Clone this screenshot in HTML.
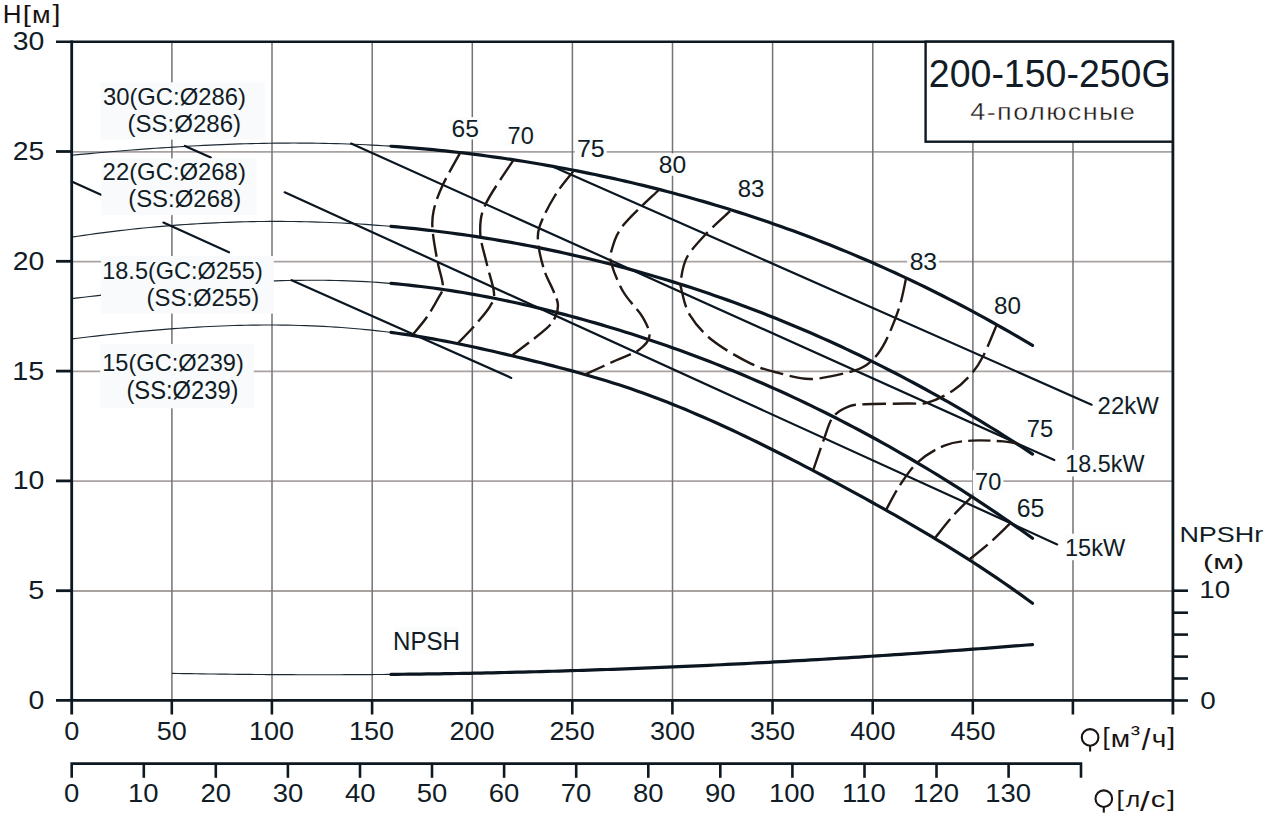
<!DOCTYPE html>
<html><head><meta charset="utf-8"><style>
html,body{margin:0;padding:0;background:#fff;width:1270px;height:830px;overflow:hidden}
svg{display:block}
text{font-family:"Liberation Sans",sans-serif}
</style></head><body>
<svg width="1270" height="830" viewBox="0 0 1270 830">
<rect width="1270" height="830" fill="#fff"/>
<line x1="72" y1="591.0" x2="1172" y2="591.0" stroke="#a8a2a0" stroke-width="1.8"/>
<line x1="72" y1="481.2" x2="1172" y2="481.2" stroke="#a8a2a0" stroke-width="1.8"/>
<line x1="72" y1="371.4" x2="1172" y2="371.4" stroke="#a8a2a0" stroke-width="1.8"/>
<line x1="72" y1="261.6" x2="1172" y2="261.6" stroke="#a8a2a0" stroke-width="1.8"/>
<line x1="72" y1="151.8" x2="1172" y2="151.8" stroke="#a8a2a0" stroke-width="1.8"/>
<line x1="171.9" y1="42" x2="171.9" y2="700" stroke="#737377" stroke-width="1.5"/>
<line x1="272.0" y1="42" x2="272.0" y2="700" stroke="#737377" stroke-width="1.5"/>
<line x1="372.2" y1="42" x2="372.2" y2="700" stroke="#737377" stroke-width="1.5"/>
<line x1="472.3" y1="42" x2="472.3" y2="700" stroke="#737377" stroke-width="1.5"/>
<line x1="572.4" y1="42" x2="572.4" y2="700" stroke="#737377" stroke-width="1.5"/>
<line x1="672.5" y1="42" x2="672.5" y2="700" stroke="#737377" stroke-width="1.5"/>
<line x1="772.6" y1="42" x2="772.6" y2="700" stroke="#737377" stroke-width="1.5"/>
<line x1="872.8" y1="42" x2="872.8" y2="700" stroke="#737377" stroke-width="1.5"/>
<line x1="972.9" y1="42" x2="972.9" y2="700" stroke="#737377" stroke-width="1.5"/>
<line x1="1073.0" y1="42" x2="1073.0" y2="700" stroke="#737377" stroke-width="1.5"/>
<path d="M71.7,155.23 L77.7,154.67 L83.7,154.12 L89.7,153.57 L95.7,153.03 L101.7,152.51 L107.7,151.99 L113.7,151.48 L119.7,150.99 L125.7,150.50 L131.7,150.03 L137.7,149.57 L143.7,149.12 L149.7,148.68 L155.7,148.26 L161.7,147.85 L167.7,147.45 L173.7,147.07 L179.7,146.71 L185.7,146.35 L191.7,146.02 L197.7,145.70 L203.7,145.39 L209.7,145.10 L215.7,144.83 L221.7,144.58 L227.7,144.34 L233.7,144.13 L239.7,143.93 L245.7,143.75 L251.7,143.59 L257.7,143.45 L263.7,143.33 L269.7,143.23 L275.7,143.15 L281.7,143.09 L287.7,143.06 L293.7,143.04 L299.7,143.05 L305.7,143.08 L311.7,143.14 L317.7,143.22 L323.7,143.32 L329.7,143.45 L335.7,143.60 L341.7,143.78 L347.7,143.98 L353.7,144.21 L359.7,144.47 L365.7,144.75 L371.7,145.06 L377.7,145.39 L383.7,145.75 L389.7,146.14 L391.0,146.23" fill="none" stroke="#1c2832" stroke-width="1.15"/>
<path d="M391.0,146.23 L397.0,146.65 L403.0,147.09 L409.0,147.56 L415.0,148.05 L421.0,148.58 L427.0,149.12 L433.0,149.69 L439.0,150.29 L445.0,150.91 L451.0,151.56 L457.0,152.24 L463.0,152.93 L469.0,153.66 L475.0,154.41 L481.0,155.18 L487.0,155.98 L493.0,156.80 L499.0,157.65 L505.0,158.52 L511.0,159.42 L517.0,160.34 L523.0,161.29 L529.0,162.26 L535.0,163.25 L541.0,164.27 L547.0,165.32 L553.0,166.39 L559.0,167.48 L565.0,168.59 L571.0,169.74 L577.0,170.90 L583.0,172.09 L589.0,173.31 L595.0,174.55 L601.0,175.81 L607.0,177.10 L613.0,178.42 L619.0,179.77 L625.0,181.13 L631.0,182.53 L637.0,183.95 L643.0,185.40 L649.0,186.88 L655.0,188.38 L661.0,189.91 L667.0,191.47 L673.0,193.05 L679.0,194.67 L685.0,196.31 L691.0,197.98 L697.0,199.67 L703.0,201.40 L709.0,203.15 L715.0,204.94 L721.0,206.75 L727.0,208.59 L733.0,210.46 L739.0,212.37 L745.0,214.30 L751.0,216.26 L757.0,218.25 L763.0,220.27 L769.0,222.32 L775.0,224.41 L781.0,226.52 L787.0,228.67 L793.0,230.84 L799.0,233.05 L805.0,235.29 L811.0,237.56 L817.0,239.87 L823.0,242.20 L829.0,244.57 L835.0,246.97 L841.0,249.41 L847.0,251.88 L853.0,254.38 L859.0,256.91 L865.0,259.48 L871.0,262.08 L877.0,264.72 L883.0,267.39 L889.0,270.09 L895.0,272.83 L901.0,275.60 L907.0,278.41 L913.0,281.25 L919.0,284.13 L925.0,287.04 L931.0,289.99 L937.0,292.98 L943.0,296.00 L949.0,299.06 L955.0,302.15 L961.0,305.28 L967.0,308.45 L973.0,311.65 L979.0,314.90 L985.0,318.17 L991.0,321.49 L997.0,324.84 L1003.0,328.24 L1009.0,331.67 L1015.0,335.13 L1021.0,338.64 L1027.0,342.19 L1032.5,345.47" fill="none" stroke="#0b1620" stroke-width="3.2" stroke-linecap="round"/>
<path d="M71.7,237.13 L77.7,236.23 L83.7,235.35 L89.7,234.50 L95.7,233.68 L101.7,232.88 L107.7,232.11 L113.7,231.36 L119.7,230.65 L125.7,229.96 L131.7,229.29 L137.7,228.65 L143.7,228.04 L149.7,227.46 L155.7,226.90 L161.7,226.37 L167.7,225.87 L173.7,225.39 L179.7,224.94 L185.7,224.52 L191.7,224.12 L197.7,223.76 L203.7,223.41 L209.7,223.10 L215.7,222.81 L221.7,222.55 L227.7,222.32 L233.7,222.11 L239.7,221.93 L245.7,221.78 L251.7,221.65 L257.7,221.55 L263.7,221.48 L269.7,221.44 L275.7,221.42 L281.7,221.43 L287.7,221.47 L293.7,221.53 L299.7,221.62 L305.7,221.74 L311.7,221.89 L317.7,222.06 L323.7,222.27 L329.7,222.49 L335.7,222.75 L341.7,223.03 L347.7,223.34 L353.7,223.68 L359.7,224.05 L365.7,224.44 L371.7,224.86 L377.7,225.31 L383.7,225.79 L389.7,226.29 L391.0,226.40" fill="none" stroke="#1c2832" stroke-width="1.15"/>
<path d="M391.0,226.40 L397.0,226.94 L403.0,227.50 L409.0,228.09 L415.0,228.71 L421.0,229.36 L427.0,230.04 L433.0,230.74 L439.0,231.47 L445.0,232.23 L451.0,233.01 L457.0,233.83 L463.0,234.67 L469.0,235.54 L475.0,236.43 L481.0,237.36 L487.0,238.31 L493.0,239.29 L499.0,240.30 L505.0,241.34 L511.0,242.40 L517.0,243.49 L523.0,244.61 L529.0,245.76 L535.0,246.94 L541.0,248.14 L547.0,249.37 L553.0,250.63 L559.0,251.92 L565.0,253.24 L571.0,254.58 L577.0,255.96 L583.0,257.36 L589.0,258.79 L595.0,260.24 L601.0,261.73 L607.0,263.25 L613.0,264.79 L619.0,266.37 L625.0,267.97 L631.0,269.60 L637.0,271.26 L643.0,272.96 L649.0,274.68 L655.0,276.43 L661.0,278.21 L667.0,280.03 L673.0,281.87 L679.0,283.75 L685.0,285.65 L691.0,287.59 L697.0,289.56 L703.0,291.55 L709.0,293.59 L715.0,295.65 L721.0,297.74 L727.0,299.87 L733.0,302.03 L739.0,304.22 L745.0,306.44 L751.0,308.70 L757.0,310.99 L763.0,313.31 L769.0,315.66 L775.0,318.05 L781.0,320.47 L787.0,322.93 L793.0,325.42 L799.0,327.94 L805.0,330.50 L811.0,333.09 L817.0,335.71 L823.0,338.37 L829.0,341.07 L835.0,343.80 L841.0,346.56 L847.0,349.36 L853.0,352.19 L859.0,355.06 L865.0,357.97 L871.0,360.91 L877.0,363.89 L883.0,366.90 L889.0,369.95 L895.0,373.04 L901.0,376.16 L907.0,379.32 L913.0,382.52 L919.0,385.75 L925.0,389.02 L931.0,392.33 L937.0,395.68 L943.0,399.06 L949.0,402.48 L955.0,405.94 L961.0,409.43 L967.0,412.97 L973.0,416.54 L979.0,420.15 L985.0,423.81 L991.0,427.50 L997.0,431.22 L1003.0,434.99 L1009.0,438.80 L1015.0,442.65 L1021.0,446.53 L1027.0,450.46 L1032.5,454.09" fill="none" stroke="#0b1620" stroke-width="3.2" stroke-linecap="round"/>
<path d="M71.7,298.63 L77.7,297.92 L83.7,297.22 L89.7,296.52 L95.7,295.83 L101.7,295.14 L107.7,294.45 L113.7,293.77 L119.7,293.10 L125.7,292.44 L131.7,291.79 L137.7,291.14 L143.7,290.51 L149.7,289.89 L155.7,289.28 L161.7,288.68 L167.7,288.09 L173.7,287.53 L179.7,286.97 L185.7,286.43 L191.7,285.91 L197.7,285.41 L203.7,284.92 L209.7,284.46 L215.7,284.01 L221.7,283.59 L227.7,283.18 L233.7,282.80 L239.7,282.44 L245.7,282.11 L251.7,281.80 L257.7,281.52 L263.7,281.26 L269.7,281.03 L275.7,280.83 L281.7,280.65 L287.7,280.51 L293.7,280.39 L299.7,280.31 L305.7,280.26 L311.7,280.24 L317.7,280.25 L323.7,280.30 L329.7,280.39 L335.7,280.51 L341.7,280.66 L347.7,280.85 L353.7,281.09 L359.7,281.36 L365.7,281.67 L371.7,282.02 L377.7,282.41 L383.7,282.84 L389.7,283.32 L391.0,283.43" fill="none" stroke="#1c2832" stroke-width="1.15"/>
<path d="M391.0,283.43 L397.0,283.96 L403.0,284.53 L409.0,285.15 L415.0,285.81 L421.0,286.51 L427.0,287.25 L433.0,288.03 L439.0,288.85 L445.0,289.72 L451.0,290.62 L457.0,291.56 L463.0,292.54 L469.0,293.56 L475.0,294.62 L481.0,295.71 L487.0,296.84 L493.0,298.01 L499.0,299.21 L505.0,300.45 L511.0,301.72 L517.0,303.02 L523.0,304.36 L529.0,305.74 L535.0,307.14 L541.0,308.58 L547.0,310.05 L553.0,311.55 L559.0,313.08 L565.0,314.65 L571.0,316.24 L577.0,317.86 L583.0,319.51 L589.0,321.19 L595.0,322.90 L601.0,324.65 L607.0,326.42 L613.0,328.22 L619.0,330.05 L625.0,331.91 L631.0,333.81 L637.0,335.73 L643.0,337.69 L649.0,339.67 L655.0,341.69 L661.0,343.74 L667.0,345.82 L673.0,347.93 L679.0,350.08 L685.0,352.25 L691.0,354.46 L697.0,356.70 L703.0,358.98 L709.0,361.28 L715.0,363.62 L721.0,366.00 L727.0,368.40 L733.0,370.84 L739.0,373.31 L745.0,375.82 L751.0,378.36 L757.0,380.93 L763.0,383.54 L769.0,386.18 L775.0,388.86 L781.0,391.57 L787.0,394.31 L793.0,397.09 L799.0,399.91 L805.0,402.76 L811.0,405.65 L817.0,408.57 L823.0,411.52 L829.0,414.52 L835.0,417.54 L841.0,420.61 L847.0,423.71 L853.0,426.85 L859.0,430.02 L865.0,433.23 L871.0,436.48 L877.0,439.76 L883.0,443.08 L889.0,446.44 L895.0,449.84 L901.0,453.27 L907.0,456.74 L913.0,460.25 L919.0,463.80 L925.0,467.38 L931.0,471.00 L937.0,474.67 L943.0,478.37 L949.0,482.11 L955.0,485.88 L961.0,489.70 L967.0,493.56 L973.0,497.45 L979.0,501.39 L985.0,505.36 L991.0,509.38 L997.0,513.43 L1003.0,517.53 L1009.0,521.67 L1015.0,525.84 L1021.0,530.06 L1027.0,534.32 L1032.5,538.25" fill="none" stroke="#0b1620" stroke-width="3.2" stroke-linecap="round"/>
<path d="M71.7,338.94 L77.7,338.20 L83.7,337.47 L89.7,336.76 L95.7,336.07 L101.7,335.39 L107.7,334.72 L113.7,334.08 L119.7,333.45 L125.7,332.83 L131.7,332.24 L137.7,331.67 L143.7,331.11 L149.7,330.58 L155.7,330.07 L161.7,329.57 L167.7,329.10 L173.7,328.66 L179.7,328.23 L185.7,327.83 L191.7,327.45 L197.7,327.10 L203.7,326.77 L209.7,326.47 L215.7,326.20 L221.7,325.95 L227.7,325.73 L233.7,325.54 L239.7,325.38 L245.7,325.24 L251.7,325.14 L257.7,325.06 L263.7,325.02 L269.7,325.01 L275.7,325.03 L281.7,325.09 L287.7,325.17 L293.7,325.29 L299.7,325.45 L305.7,325.64 L311.7,325.86 L317.7,326.12 L323.7,326.42 L329.7,326.76 L335.7,327.13 L341.7,327.54 L347.7,327.99 L353.7,328.48 L359.7,329.01 L365.7,329.58 L371.7,330.19 L377.7,330.84 L383.7,331.54 L389.7,332.28 L391.0,332.44" fill="none" stroke="#1c2832" stroke-width="1.15"/>
<path d="M391.0,332.44 L397.0,333.24 L403.0,334.07 L409.0,334.95 L415.0,335.88 L421.0,336.85 L427.0,337.86 L433.0,338.91 L439.0,340.01 L445.0,341.14 L451.0,342.30 L457.0,343.50 L463.0,344.74 L469.0,346.00 L475.0,347.29 L481.0,348.61 L487.0,349.95 L493.0,351.31 L499.0,352.69 L505.0,354.09 L511.0,355.51 L517.0,356.95 L523.0,358.39 L529.0,359.85 L535.0,361.33 L541.0,362.82 L547.0,364.33 L553.0,365.87 L559.0,367.43 L565.0,369.01 L571.0,370.63 L577.0,372.27 L583.0,373.95 L589.0,375.67 L595.0,377.42 L601.0,379.21 L607.0,381.04 L613.0,382.92 L619.0,384.85 L625.0,386.82 L631.0,388.85 L637.0,390.92 L643.0,393.06 L649.0,395.24 L655.0,397.47 L661.0,399.75 L667.0,402.08 L673.0,404.46 L679.0,406.89 L685.0,409.35 L691.0,411.86 L697.0,414.42 L703.0,417.01 L709.0,419.65 L715.0,422.32 L721.0,425.03 L727.0,427.78 L733.0,430.57 L739.0,433.38 L745.0,436.24 L751.0,439.12 L757.0,442.03 L763.0,444.98 L769.0,447.95 L775.0,450.95 L781.0,453.97 L787.0,457.02 L793.0,460.10 L799.0,463.19 L805.0,466.31 L811.0,469.45 L817.0,472.61 L823.0,475.78 L829.0,478.97 L835.0,482.18 L841.0,485.40 L847.0,488.64 L853.0,491.89 L859.0,495.16 L865.0,498.44 L871.0,501.74 L877.0,505.07 L883.0,508.41 L889.0,511.78 L895.0,515.18 L901.0,518.60 L907.0,522.04 L913.0,525.52 L919.0,529.03 L925.0,532.57 L931.0,536.15 L937.0,539.76 L943.0,543.41 L949.0,547.09 L955.0,550.82 L961.0,554.59 L967.0,558.40 L973.0,562.26 L979.0,566.16 L985.0,570.11 L991.0,574.11 L997.0,578.16 L1003.0,582.26 L1009.0,586.42 L1015.0,590.63 L1021.0,594.90 L1027.0,599.22 L1032.5,603.24" fill="none" stroke="#0b1620" stroke-width="3.2" stroke-linecap="round"/>
<path d="M172.0,673.35 L178.0,673.46 L184.0,673.57 L190.0,673.67 L196.0,673.77 L202.0,673.86 L208.0,673.95 L214.0,674.04 L220.0,674.11 L226.0,674.19 L232.0,674.26 L238.0,674.32 L244.0,674.38 L250.0,674.44 L256.0,674.49 L262.0,674.53 L268.0,674.57 L274.0,674.61 L280.0,674.64 L286.0,674.67 L292.0,674.69 L298.0,674.71 L304.0,674.72 L310.0,674.73 L316.0,674.73 L322.0,674.73 L328.0,674.72 L334.0,674.71 L340.0,674.70 L346.0,674.68 L352.0,674.65 L358.0,674.63 L364.0,674.59 L370.0,674.55 L376.0,674.51 L382.0,674.46 L388.0,674.41 L391.0,674.38" fill="none" stroke="#1c2832" stroke-width="1.15"/>
<path d="M391.0,674.38 L397.0,674.33 L403.0,674.26 L409.0,674.20 L415.0,674.12 L421.0,674.05 L427.0,673.97 L433.0,673.88 L439.0,673.79 L445.0,673.70 L451.0,673.60 L457.0,673.49 L463.0,673.39 L469.0,673.28 L475.0,673.16 L481.0,673.04 L487.0,672.91 L493.0,672.78 L499.0,672.65 L505.0,672.51 L511.0,672.37 L517.0,672.22 L523.0,672.07 L529.0,671.92 L535.0,671.76 L541.0,671.59 L547.0,671.42 L553.0,671.25 L559.0,671.07 L565.0,670.89 L571.0,670.71 L577.0,670.52 L583.0,670.33 L589.0,670.13 L595.0,669.93 L601.0,669.72 L607.0,669.51 L613.0,669.29 L619.0,669.08 L625.0,668.85 L631.0,668.63 L637.0,668.39 L643.0,668.16 L649.0,667.92 L655.0,667.68 L661.0,667.43 L667.0,667.18 L673.0,666.92 L679.0,666.66 L685.0,666.40 L691.0,666.13 L697.0,665.86 L703.0,665.58 L709.0,665.30 L715.0,665.02 L721.0,664.73 L727.0,664.44 L733.0,664.14 L739.0,663.84 L745.0,663.54 L751.0,663.23 L757.0,662.92 L763.0,662.61 L769.0,662.29 L775.0,661.96 L781.0,661.64 L787.0,661.31 L793.0,660.97 L799.0,660.63 L805.0,660.29 L811.0,659.94 L817.0,659.59 L823.0,659.24 L829.0,658.88 L835.0,658.52 L841.0,658.16 L847.0,657.79 L853.0,657.41 L859.0,657.04 L865.0,656.66 L871.0,656.27 L877.0,655.89 L883.0,655.49 L889.0,655.10 L895.0,654.70 L901.0,654.30 L907.0,653.89 L913.0,653.48 L919.0,653.07 L925.0,652.65 L931.0,652.23 L937.0,651.80 L943.0,651.38 L949.0,650.94 L955.0,650.51 L961.0,650.07 L967.0,649.63 L973.0,649.18 L979.0,648.73 L985.0,648.28 L991.0,647.82 L997.0,647.36 L1003.0,646.90 L1009.0,646.43 L1015.0,645.96 L1021.0,645.49 L1027.0,645.01 L1032.5,644.57" fill="none" stroke="#0b1620" stroke-width="3.2" stroke-linecap="round"/>
<line x1="553.7" y1="166.9" x2="1091.6" y2="404.7" stroke="#0b1620" stroke-width="2.2" stroke-linecap="round"/>
<line x1="351.1" y1="143.6" x2="1054.3" y2="460.1" stroke="#0b1620" stroke-width="2.2" stroke-linecap="round"/>
<line x1="284.7" y1="192.3" x2="1057.2" y2="544.4" stroke="#0b1620" stroke-width="2.2" stroke-linecap="round"/>
<line x1="291.6" y1="280.2" x2="511.3" y2="377.9" stroke="#0b1620" stroke-width="2.2" stroke-linecap="round"/>
<line x1="71.7" y1="181.5" x2="101" y2="194.7" stroke="#0b1620" stroke-width="2.2" stroke-linecap="round"/>
<line x1="163.4" y1="222.6" x2="229" y2="252.3" stroke="#0b1620" stroke-width="2.2" stroke-linecap="round"/>
<line x1="184.9" y1="146" x2="210.8" y2="157.6" stroke="#0b1620" stroke-width="2.2" stroke-linecap="round"/>
<path d="M460.4,152.4 C457.4,158.0 446.8,176.2 442.3,185.9 C437.8,195.7 435.2,203.5 433.6,210.9 C432.0,218.3 432.0,221.8 432.6,230.2 C433.2,238.5 435.7,251.7 437.4,261.0 C439.1,270.3 442.8,279.8 442.9,286.0 C443.0,292.2 440.8,293.2 438.0,298.5 C435.2,303.8 430.6,311.8 426.4,317.8 C422.2,323.8 415.2,331.7 413.0,334.5" fill="none" stroke="#221814" stroke-width="2.4" stroke-dasharray="22.83 6.45"/>
<path d="M513.4,160.2 C508.8,167.5 491.1,192.2 485.6,204.2 C480.1,216.2 480.0,222.3 480.2,232.1 C480.4,241.9 484.3,252.9 486.6,263.0 C488.9,273.1 493.4,285.6 494.0,292.8 C494.6,300.0 493.2,300.9 490.0,306.3 C486.8,311.8 480.1,319.2 474.7,325.5 C469.2,331.8 460.2,340.8 457.3,343.8" fill="none" stroke="#221814" stroke-width="2.4" stroke-dasharray="23.86 6.74"/>
<path d="M573.2,171.4 C570.2,175.4 560.6,186.3 555.0,195.5 C549.4,204.7 542.3,218.1 539.6,226.4 C536.9,234.8 537.8,238.2 538.6,245.6 C539.4,253.0 542.0,263.3 544.4,270.7 C546.8,278.1 550.8,284.5 553.0,290.0 C555.2,295.5 557.3,299.4 557.8,303.6 C558.3,307.8 557.8,311.0 555.9,315.2 C554.0,319.4 553.7,321.9 546.3,328.7 C538.9,335.4 517.4,351.2 511.6,355.7" fill="none" stroke="#221814" stroke-width="2.4" stroke-dasharray="21.88 6.18"/>
<path d="M658.8,190.0 C652.8,195.9 630.9,215.5 623.0,225.6 C615.1,235.7 613.4,244.1 611.5,250.7 C609.6,257.3 609.8,258.1 611.8,265.0 C613.8,271.9 618.3,283.3 623.4,292.0 C628.5,300.7 638.3,309.7 642.6,317.1 C646.9,324.5 650.0,330.9 649.4,336.4 C648.8,341.9 644.4,345.9 638.8,349.9 C633.2,353.9 624.8,356.3 615.7,360.5 C606.6,364.7 589.4,372.5 584.1,374.9" fill="none" stroke="#221814" stroke-width="2.4" stroke-dasharray="22.45 6.34"/>
<path d="M730.0,211.2 C726.1,214.9 713.6,225.8 706.5,233.4 C699.4,241.0 691.4,249.4 687.1,257.0 C682.9,264.6 681.9,273.6 681.0,279.1 C680.1,284.6 680.1,284.2 681.6,290.2 C683.1,296.2 684.8,306.8 689.9,315.1 C695.0,323.4 701.9,331.9 712.0,340.0 C722.1,348.1 739.5,358.1 750.8,363.6 C762.1,369.2 769.9,370.7 780.0,373.3 C790.1,375.9 799.3,379.4 811.7,379.0 C824.1,378.6 844.3,373.7 854.3,370.6 C864.3,367.5 866.6,365.3 871.8,360.5 C877.0,355.7 880.8,350.6 885.3,341.9 C889.8,333.2 895.6,318.7 899.0,308.2 C902.4,297.7 904.8,284.0 905.9,279.1" fill="none" stroke="#221814" stroke-width="2.4" stroke-dasharray="23.72 6.70"/>
<path d="M813.2,470.1 C815.0,465.0 820.5,448.5 823.8,439.6 C827.1,430.8 828.8,422.5 833.0,417.0 C837.2,411.5 843.7,408.5 849.0,406.4 C854.3,404.3 855.3,404.8 865.0,404.3 C874.7,403.8 896.9,403.8 907.3,403.5 C917.7,403.2 919.9,404.7 927.5,402.6 C935.1,400.5 945.4,395.6 952.7,390.8 C960.0,386.0 966.2,379.8 971.3,374.0 C976.4,368.2 978.9,364.4 983.1,356.3 C987.3,348.2 994.4,330.3 996.6,325.1" fill="none" stroke="#221814" stroke-width="2.4" stroke-dasharray="23.40 6.61"/>
<path d="M886.1,509.9 C888.3,505.9 894.1,494.0 899.4,486.0 C904.7,478.0 910.4,468.8 917.9,462.1 C925.4,455.4 935.4,449.2 944.3,445.6 C953.2,442.0 961.5,441.3 971.3,440.6 C981.1,439.9 995.4,440.8 1003.3,441.4 C1011.2,442.0 1016.0,443.6 1018.5,444.0" fill="none" stroke="#221814" stroke-width="2.4" stroke-dasharray="22.12 6.25"/>
<path d="M935.2,537.7 C938.1,534.2 946.4,523.3 952.4,516.5 C958.4,509.7 968.1,500.3 971.3,497.1" fill="none" stroke="#221814" stroke-width="2.4" stroke-dasharray="23.83 6.73"/>
<path d="M968.9,559.8 C972.3,557.0 982.7,549.0 989.5,543.0 C996.3,537.0 1006.5,526.8 1009.9,523.6" fill="none" stroke="#221814" stroke-width="2.4" stroke-dasharray="23.98 6.78"/>
<line x1="56" y1="41.7" x2="1173" y2="41.7" stroke="#0d1820" stroke-width="2.6"/>
<line x1="56" y1="700.3" x2="1174" y2="700.3" stroke="#0d1820" stroke-width="2.8"/>
<line x1="71.7" y1="40.5" x2="71.7" y2="714.5" stroke="#0d1820" stroke-width="2.8"/>
<line x1="1172.9" y1="40.5" x2="1172.9" y2="714.5" stroke="#0d1820" stroke-width="2.8"/>
<line x1="56" y1="590.7" x2="71.7" y2="590.7" stroke="#0d1820" stroke-width="2.8"/>
<line x1="56" y1="480.9" x2="71.7" y2="480.9" stroke="#0d1820" stroke-width="2.8"/>
<line x1="56" y1="371.1" x2="71.7" y2="371.1" stroke="#0d1820" stroke-width="2.8"/>
<line x1="56" y1="261.3" x2="71.7" y2="261.3" stroke="#0d1820" stroke-width="2.8"/>
<line x1="56" y1="151.5" x2="71.7" y2="151.5" stroke="#0d1820" stroke-width="2.8"/>
<line x1="171.8" y1="700" x2="171.8" y2="714.5" stroke="#0d1820" stroke-width="2.6"/>
<line x1="271.9" y1="700" x2="271.9" y2="714.5" stroke="#0d1820" stroke-width="2.6"/>
<line x1="372.1" y1="700" x2="372.1" y2="714.5" stroke="#0d1820" stroke-width="2.6"/>
<line x1="472.2" y1="700" x2="472.2" y2="714.5" stroke="#0d1820" stroke-width="2.6"/>
<line x1="572.3" y1="700" x2="572.3" y2="714.5" stroke="#0d1820" stroke-width="2.6"/>
<line x1="672.4" y1="700" x2="672.4" y2="714.5" stroke="#0d1820" stroke-width="2.6"/>
<line x1="772.5" y1="700" x2="772.5" y2="714.5" stroke="#0d1820" stroke-width="2.6"/>
<line x1="872.7" y1="700" x2="872.7" y2="714.5" stroke="#0d1820" stroke-width="2.6"/>
<line x1="972.8" y1="700" x2="972.8" y2="714.5" stroke="#0d1820" stroke-width="2.6"/>
<line x1="1072.9" y1="700" x2="1072.9" y2="714.5" stroke="#0d1820" stroke-width="2.6"/>
<line x1="1172.9" y1="700.5" x2="1188" y2="700.5" stroke="#0d1820" stroke-width="2.6"/>
<line x1="1172.9" y1="678.5" x2="1188" y2="678.5" stroke="#0d1820" stroke-width="2.6"/>
<line x1="1172.9" y1="656.6" x2="1188" y2="656.6" stroke="#0d1820" stroke-width="2.6"/>
<line x1="1172.9" y1="634.6" x2="1188" y2="634.6" stroke="#0d1820" stroke-width="2.6"/>
<line x1="1172.9" y1="612.7" x2="1188" y2="612.7" stroke="#0d1820" stroke-width="2.6"/>
<line x1="1172.9" y1="590.7" x2="1188" y2="590.7" stroke="#0d1820" stroke-width="2.6"/>
<path d="M71.7,777.8 L71.7,763.6 L1081,763.6 L1081,777.8" fill="none" stroke="#0d1820" stroke-width="2.6"/>
<line x1="143.8" y1="763.6" x2="143.8" y2="777.8" stroke="#0d1820" stroke-width="2.6"/>
<line x1="215.8" y1="763.6" x2="215.8" y2="777.8" stroke="#0d1820" stroke-width="2.6"/>
<line x1="287.9" y1="763.6" x2="287.9" y2="777.8" stroke="#0d1820" stroke-width="2.6"/>
<line x1="360.0" y1="763.6" x2="360.0" y2="777.8" stroke="#0d1820" stroke-width="2.6"/>
<line x1="432.0" y1="763.6" x2="432.0" y2="777.8" stroke="#0d1820" stroke-width="2.6"/>
<line x1="504.1" y1="763.6" x2="504.1" y2="777.8" stroke="#0d1820" stroke-width="2.6"/>
<line x1="576.2" y1="763.6" x2="576.2" y2="777.8" stroke="#0d1820" stroke-width="2.6"/>
<line x1="648.3" y1="763.6" x2="648.3" y2="777.8" stroke="#0d1820" stroke-width="2.6"/>
<line x1="720.3" y1="763.6" x2="720.3" y2="777.8" stroke="#0d1820" stroke-width="2.6"/>
<line x1="792.4" y1="763.6" x2="792.4" y2="777.8" stroke="#0d1820" stroke-width="2.6"/>
<line x1="864.5" y1="763.6" x2="864.5" y2="777.8" stroke="#0d1820" stroke-width="2.6"/>
<line x1="936.5" y1="763.6" x2="936.5" y2="777.8" stroke="#0d1820" stroke-width="2.6"/>
<line x1="1008.6" y1="763.6" x2="1008.6" y2="777.8" stroke="#0d1820" stroke-width="2.6"/>
<text transform="translate(12.71,50.25) scale(1.1300,1)" font-size="25.16" fill="#111c26">30</text>
<text transform="translate(12.78,160.05) scale(1.1300,1)" font-size="25.16" fill="#111c26">25</text>
<text transform="translate(12.71,269.85) scale(1.1300,1)" font-size="25.16" fill="#111c26">20</text>
<text transform="translate(12.34,379.64) scale(1.1300,1)" font-size="25.52" fill="#111c26">15</text>
<text transform="translate(12.71,489.45) scale(1.1300,1)" font-size="25.16" fill="#111c26">10</text>
<text transform="translate(28.35,599.24) scale(1.1300,1)" font-size="25.52" fill="#111c26">5</text>
<text transform="translate(28.49,709.05) scale(1.1300,1)" font-size="25.16" fill="#111c26">0</text>
<text transform="translate(2.75,22.80) scale(1.0102,1)" font-size="25.75" fill="#1a1210">H</text>
<text transform="translate(22.87,21.94) scale(1.2127,1)" font-size="23.91" fill="#1a1210">[</text>
<text transform="translate(32.10,22.80) scale(1.1342,1)" font-size="23.89" fill="#1a1210">м</text>
<text transform="translate(52.39,21.94) scale(1.1918,1)" font-size="23.91" fill="#1a1210">]</text>
<text transform="translate(64.17,740.35) scale(1.0800,1)" font-size="25.02" fill="#111c26">0</text>
<text transform="translate(156.79,740.35) scale(1.0800,1)" font-size="25.02" fill="#111c26">50</text>
<text transform="translate(248.91,740.35) scale(1.0800,1)" font-size="25.02" fill="#111c26">100</text>
<text transform="translate(349.03,740.35) scale(1.0800,1)" font-size="25.02" fill="#111c26">150</text>
<text transform="translate(449.48,740.35) scale(1.0800,1)" font-size="25.02" fill="#111c26">200</text>
<text transform="translate(549.60,740.35) scale(1.0800,1)" font-size="25.02" fill="#111c26">250</text>
<text transform="translate(649.89,740.35) scale(1.0800,1)" font-size="25.02" fill="#111c26">300</text>
<text transform="translate(750.01,740.35) scale(1.0800,1)" font-size="25.02" fill="#111c26">350</text>
<text transform="translate(850.34,740.35) scale(1.0800,1)" font-size="25.02" fill="#111c26">400</text>
<text transform="translate(950.46,740.35) scale(1.0800,1)" font-size="25.02" fill="#111c26">450</text>
<text transform="translate(64.04,802.35) scale(1.0800,1)" font-size="25.44" fill="#111c26">0</text>
<text transform="translate(128.01,802.35) scale(1.0800,1)" font-size="25.44" fill="#111c26">10</text>
<text transform="translate(200.42,802.35) scale(1.0800,1)" font-size="25.44" fill="#111c26">20</text>
<text transform="translate(272.66,802.35) scale(1.0800,1)" font-size="25.44" fill="#111c26">30</text>
<text transform="translate(344.94,802.35) scale(1.0800,1)" font-size="25.44" fill="#111c26">40</text>
<text transform="translate(416.77,802.35) scale(1.0800,1)" font-size="25.44" fill="#111c26">50</text>
<text transform="translate(488.70,802.35) scale(1.0800,1)" font-size="25.44" fill="#111c26">60</text>
<text transform="translate(560.77,802.35) scale(1.0800,1)" font-size="25.44" fill="#111c26">70</text>
<text transform="translate(632.94,802.35) scale(1.0800,1)" font-size="25.44" fill="#111c26">80</text>
<text transform="translate(704.94,802.35) scale(1.0800,1)" font-size="25.44" fill="#111c26">90</text>
<text transform="translate(768.98,802.35) scale(1.0800,1)" font-size="25.44" fill="#111c26">100</text>
<text transform="translate(842.08,802.35) scale(1.0800,1)" font-size="25.44" fill="#111c26">110</text>
<text transform="translate(913.12,802.35) scale(1.0800,1)" font-size="25.44" fill="#111c26">120</text>
<text transform="translate(985.19,802.35) scale(1.0800,1)" font-size="25.44" fill="#111c26">130</text>
<rect x="100.4" y="82.3" width="164.6" height="57.3" fill="#f8fafb"/>
<text transform="translate(102.91,105.25) scale(0.9788,1)" font-size="24.34" fill="#111c26">30(GC:Ø286)</text>
<text transform="translate(127.50,132.17) scale(0.9921,1)" font-size="24.24" fill="#111c26">(SS:Ø286)</text>
<rect x="101.4" y="158.4" width="155.2" height="56.7" fill="#f8fafb"/>
<text transform="translate(102.61,180.25) scale(0.9809,1)" font-size="24.34" fill="#111c26">22(GC:Ø268)</text>
<text transform="translate(128.20,207.06) scale(0.9662,1)" font-size="24.77" fill="#111c26">(SS:Ø268)</text>
<rect x="101" y="256" width="172.8" height="57.6" fill="#f8fafb"/>
<text transform="translate(102.24,278.69) scale(0.9736,1)" font-size="24.13" fill="#111c26">18.5(GC:Ø255)</text>
<text transform="translate(146.61,305.70) scale(1.0108,1)" font-size="23.59" fill="#111c26">(SS:Ø255)</text>
<rect x="100.2" y="344" width="153.7" height="64.3" fill="#f8fafb"/>
<text transform="translate(102.23,371.19) scale(0.9776,1)" font-size="24.13" fill="#111c26">15(GC:Ø239)</text>
<text transform="translate(126.42,398.64) scale(0.9542,1)" font-size="24.88" fill="#111c26">(SS:Ø239)</text>
<rect x="449.3" y="117.1" width="31.7" height="22.3" fill="#fbfcfc"/>
<text transform="translate(451.56,136.66) scale(1.0104,1)" font-size="24.45" fill="#111c26">65</text>
<rect x="505.2" y="124.5" width="30.6" height="22.0" fill="#fbfcfc"/>
<text transform="translate(507.52,143.76) scale(0.9809,1)" font-size="24.03" fill="#111c26">70</text>
<rect x="574.7" y="137.3" width="32.0" height="22.0" fill="#fbfcfc"/>
<text transform="translate(576.95,156.56) scale(1.0257,1)" font-size="24.37" fill="#111c26">75</text>
<rect x="656.4" y="153.3" width="31.8" height="22.5" fill="#fbfcfc"/>
<text transform="translate(658.86,173.05) scale(0.9931,1)" font-size="24.73" fill="#111c26">80</text>
<rect x="735.3" y="177.6" width="31.1" height="22.5" fill="#fbfcfc"/>
<text transform="translate(737.78,197.35) scale(0.9703,1)" font-size="24.73" fill="#111c26">83</text>
<rect x="907.2" y="249.9" width="31.8" height="22.4" fill="#fbfcfc"/>
<text transform="translate(909.65,269.55) scale(1.0036,1)" font-size="24.59" fill="#111c26">83</text>
<rect x="991.5" y="293.9" width="31.5" height="22.4" fill="#fbfcfc"/>
<text transform="translate(993.97,313.55) scale(0.9869,1)" font-size="24.59" fill="#111c26">80</text>
<rect x="1024.5" y="417.9" width="30.7" height="22.3" fill="#fbfcfc"/>
<text transform="translate(1026.81,437.45) scale(0.9566,1)" font-size="24.80" fill="#111c26">75</text>
<rect x="972.8" y="470.2" width="30.6" height="22.5" fill="#fbfcfc"/>
<text transform="translate(975.12,489.95) scale(0.9529,1)" font-size="24.73" fill="#111c26">70</text>
<rect x="1014.5" y="497.0" width="31.8" height="22.8" fill="#fbfcfc"/>
<text transform="translate(1016.76,517.05) scale(0.9859,1)" font-size="25.16" fill="#111c26">65</text>
<rect x="1097.8" y="391.7" width="61.9" height="26.4" fill="#fbfcfc"/>
<text transform="translate(1097.60,414.10) scale(0.9973,1)" font-size="24.00" fill="#111c26">22kW</text>
<rect x="1066.0" y="449.9" width="79.4" height="26.5" fill="#fbfcfc"/>
<text transform="translate(1065.25,472.16) scale(0.9814,1)" font-size="23.81" fill="#111c26">18.5kW</text>
<rect x="1065.7" y="533.7" width="60.4" height="26.5" fill="#fbfcfc"/>
<text transform="translate(1064.93,555.96) scale(0.9900,1)" font-size="23.81" fill="#111c26">15kW</text>
<rect x="394.0" y="627.2" width="65.0" height="26.7" fill="#fbfcfc"/>
<text transform="translate(393.01,649.65) scale(0.9639,1)" font-size="25.02" fill="#111c26">NPSH</text>
<rect x="925.6" y="41.7" width="247.2" height="100" fill="#ffffff" stroke="#0d1820" stroke-width="2.4"/>
<text transform="translate(928.82,87.30) scale(0.9476,1)" font-size="39.58" fill="#111c26">200-150-250G</text>
<text transform="translate(970.3,120.0) scale(1.1,1)" font-size="24.6" letter-spacing="1.26" fill="#1e1614" stroke="#ffffff" stroke-width="0.35">4-полюсные</text>
<text transform="translate(1179.38,541.77) scale(1.1772,1)" font-size="22.90" fill="#111c26">NPSHr</text>
<text transform="translate(1203.10,568.53) scale(1.4728,1)" font-size="20.59" fill="#1a1412">(м)</text>
<text transform="translate(1199.22,597.57) scale(1.1907,1)" font-size="23.32" fill="#111c26">10</text>
<text transform="translate(1200.19,708.76) scale(1.1661,1)" font-size="23.89" fill="#111c26">0</text>
<circle cx="1090.1" cy="737.4" r="8.3" fill="none" stroke="#1a1412" stroke-width="2.1"/>
<line x1="1090.1" y1="745.5" x2="1090.1" y2="751.5" stroke="#1a1412" stroke-width="2.1"/>
<text transform="translate(1102.38,745.19) scale(1.1225,1)" font-size="23.16" fill="#1a1412">[</text>
<text transform="translate(1110.83,746.50) scale(1.1798,1)" font-size="23.89" fill="#1a1412">м</text>
<text transform="translate(1130.65,741.03) scale(1.3515,1)" font-size="20.47" fill="#1a1412">³</text>
<text transform="translate(1141.70,749.71) scale(1.0847,1)" font-size="28.57" fill="#1a1412">/</text>
<text transform="translate(1151.82,746.50) scale(1.1733,1)" font-size="23.89" fill="#1a1412">ч</text>
<text transform="translate(1167.29,745.19) scale(1.2304,1)" font-size="23.16" fill="#1a1412">]</text>
<circle cx="1103.8" cy="798.7" r="8.3" fill="none" stroke="#1a1412" stroke-width="2.1"/>
<line x1="1103.8" y1="806.8" x2="1103.8" y2="812.6" stroke="#1a1412" stroke-width="2.1"/>
<text transform="translate(1116.48,806.36) scale(1.1383,1)" font-size="22.84" fill="#1a1412">[</text>
<text transform="translate(1125.78,806.88) scale(1.1254,1)" font-size="21.95" fill="#1a1412">л</text>
<text transform="translate(1140.00,810.82) scale(1.2215,1)" font-size="28.03" fill="#1a1412">/</text>
<text transform="translate(1150.65,807.18) scale(1.3259,1)" font-size="22.10" fill="#1a1412">с</text>
<text transform="translate(1167.29,806.36) scale(1.2258,1)" font-size="22.84" fill="#1a1412">]</text>
</svg></body></html>
